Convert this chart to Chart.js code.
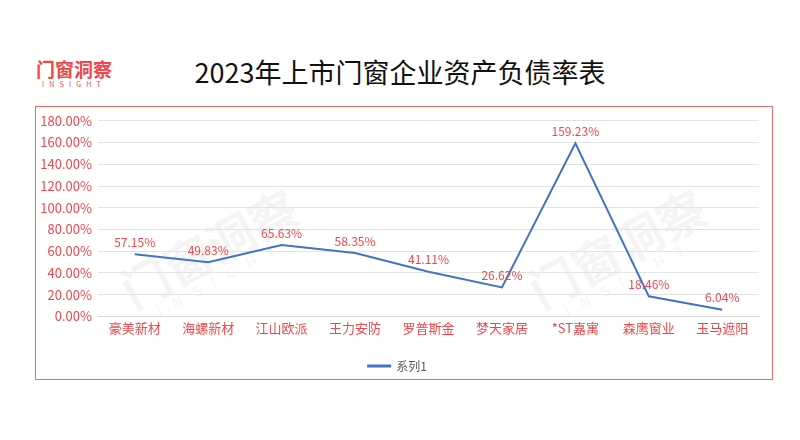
<!DOCTYPE html>
<html>
<head>
<meta charset="utf-8">
<script src="https://cdn.jsdelivr.net/npm/chart.js@4"></script>
<style>
	body {margin: 0; background: #fff; width: 800px; height: 440px; position: relative; overflow: hidden; font-family: "Noto Sans CJK SC", sans-serif;}
	#logo {position: absolute; left: 36px; top: 58px; color: #f0474b; font-weight: bold; font-size: 19px; line-height: 22px; letter-spacing: 0px;}
	#logo small {display: block; font-size: 7px; line-height: 8px; letter-spacing: 5.2px; font-weight: normal; margin-left: 6px;}
	#title {position: absolute; left: 0; width: 800px; top: 54px; text-align: center; font-size: 27px; line-height: 36px; color: #111;}
	#box {position: absolute; left: 35px; top: 106px; width: 736px; height: 272px; border: 1px solid #ee6b6b;}
	.wm {position: absolute; color: rgba(0, 0, 0, 0.045); font-weight: bold; font-size: 48px; line-height: 50px; transform: rotate(-28deg); transform-origin: left top; white-space: nowrap;}
	.wm small {display: block; font-size: 15px; line-height: 16px; letter-spacing: 12px; margin-left: 20px;}
</style>
</head>
<body>
<div id="logo">门窗洞察<small>INSIGHT</small></div>
<div id="title">2023年上市门窗企业资产负债率表</div>
<div class="wm" style="left: 112px; top: 270px;">门窗洞察<small>INSIGHT</small></div>
<div class="wm" style="left: 520px; top: 270px;">门窗洞察<small>INSIGHT</small></div>
<div id="box"><canvas id="c"></canvas></div>
<script>
let companies = ['豪美新材', '海螺新材', '江山欧派', '王力安防', '罗普斯金', '梦天家居', '*ST嘉寓', '森鹰窗业', '玉马遮阳'];
let debtRatio = [57.15, 49.83, 65.63, 58.35, 41.11, 26.62, 159.23, 18.46, 6.04];
let seriesName = '系列1';
let red = '#f0474b';

let pointLabels = {
	id: 'pointLabels',
	afterDatasetsDraw(chart) {
		let {ctx} = chart;
		let meta = chart.getDatasetMeta(0);
		ctx.save();
		ctx.fillStyle = red;
		ctx.font = '12px "Noto Sans CJK SC", sans-serif';
		ctx.textAlign = 'center';
		ctx.textBaseline = 'bottom';
		meta.data.forEach((pt, i) => {
			ctx.fillText(debtRatio[i].toFixed(2) + '%', pt.x, pt.y - 6);
		});
		ctx.restore();
	},
};

new Chart(document.getElementById('c'), {
	type: 'line',
	data: {
		labels: companies,
		datasets: [{
			label: seriesName,
			data: debtRatio,
			borderColor: '#4472c4',
			backgroundColor: '#4472c4',
			borderWidth: 2,
			pointRadius: 0,
			tension: 0,
		}],
	},
	options: {
		responsive: true,
		maintainAspectRatio: false,
		animation: false,
		layout: {padding: {top: 10, right: 13, left: 0, bottom: -3}},
		plugins: {
			legend: {
				position: 'bottom',
				labels: {
					boxWidth: 22,
					boxHeight: 1,
					padding: 4,
					color: '#595959',
					font: {size: 12, family: '"Noto Sans CJK SC", sans-serif'},
				},
			},
			tooltip: {enabled: false},
		},
		scales: {
			x: {
				offset: true,
				grid: {display: false, drawTicks: false},
				border: {color: '#d9d9d9'},
				afterFit(scale) {
					scale.height += 16;
				},
				ticks: {color: red, font: {size: 13, family: '"Noto Sans CJK SC", sans-serif'}, maxRotation: 0, padding: 4},
			},
			y: {
				min: 0,
				max: 180,
				afterFit(scale) {
					scale.width = 62;
				},
				grid: {color: '#e3e3e3', drawTicks: false},
				border: {display: false},
				ticks: {
					stepSize: 20,
					padding: 6,
					color: red,
					font: {size: 13, family: '"Noto Sans CJK SC", sans-serif'},
					callback: (v) => v.toFixed(2) + '%',
				},
			},
		},
	},
	plugins: [pointLabels],
});
</script>
</body>
</html>
